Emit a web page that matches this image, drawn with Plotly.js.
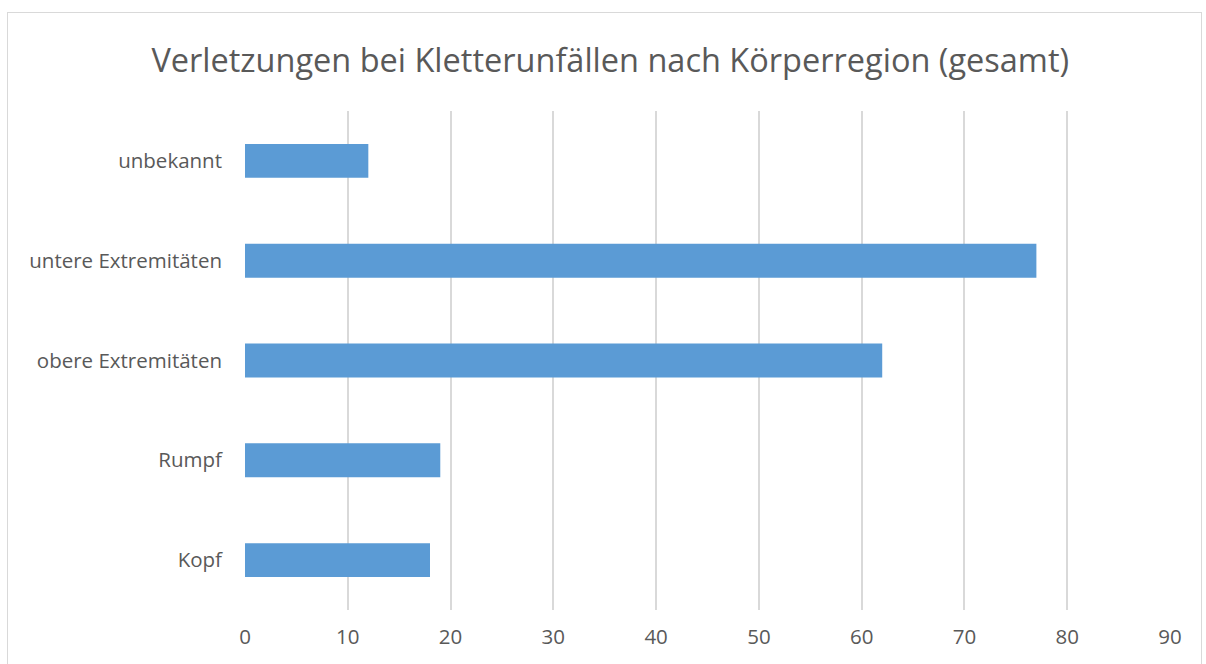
<!DOCTYPE html>
<html><head><meta charset="utf-8">
<script src="https://cdn.plot.ly/plotly-3.0.1.min.js"></script>
<style>html,body{margin:0;padding:0;background:#fff;}#frame{position:absolute;left:7px;top:12px;width:1193px;height:700px;border:1px solid #d9d9d9;pointer-events:none;}</style>
</head><body>
<div id="chart" style="width:1206px;height:664px;"></div>
<div id="frame"></div>
<script>
const categories = ["Kopf", "Rumpf", "obere Extremitäten", "untere Extremitäten", "unbekannt"];
const values = [18, 19, 62, 77, 12];
const xTicks = [0, 10, 20, 30, 40, 50, 60, 70, 80, 90];

Plotly.newPlot("chart", [{
  type: "bar", orientation: "h", y: categories, x: values,
  marker: {color: "#5b9bd5"}, hoverinfo: "x+y"
}], {
  width: 1206, height: 664,
  margin: {l: 245, r: 36, t: 111, b: 54},
  paper_bgcolor: "#fff", plot_bgcolor: "#fff",
  font: {family: "Open Sans, sans-serif", color: "#595959", size: 20},
  title: {text: "Verletzungen bei Kletterunfällen nach Körperregion (gesamt)", font: {size: 32.5, color: "#595959"}, x: 0.506, xanchor: "center", y: 0.909, yanchor: "middle", yref: "container"},
  bargap: 0.66,
  xaxis: {range: [0, 90], tickvals: xTicks, showgrid: true, gridcolor: "#d9d9d9", gridwidth: 1.5, zeroline: false, showline: false, ticks: "", ticklabelstandoff: 12, tickfont: {size: 20.5}},
  yaxis: {type: "category", categoryorder: "array", categoryarray: categories, showgrid: false, zeroline: false, showline: false, ticks: "", ticklabelstandoff: 22, tickfont: {size: 20.5}},
  showlegend: false
}, {displayModeBar: false});
</script>
</body></html>
